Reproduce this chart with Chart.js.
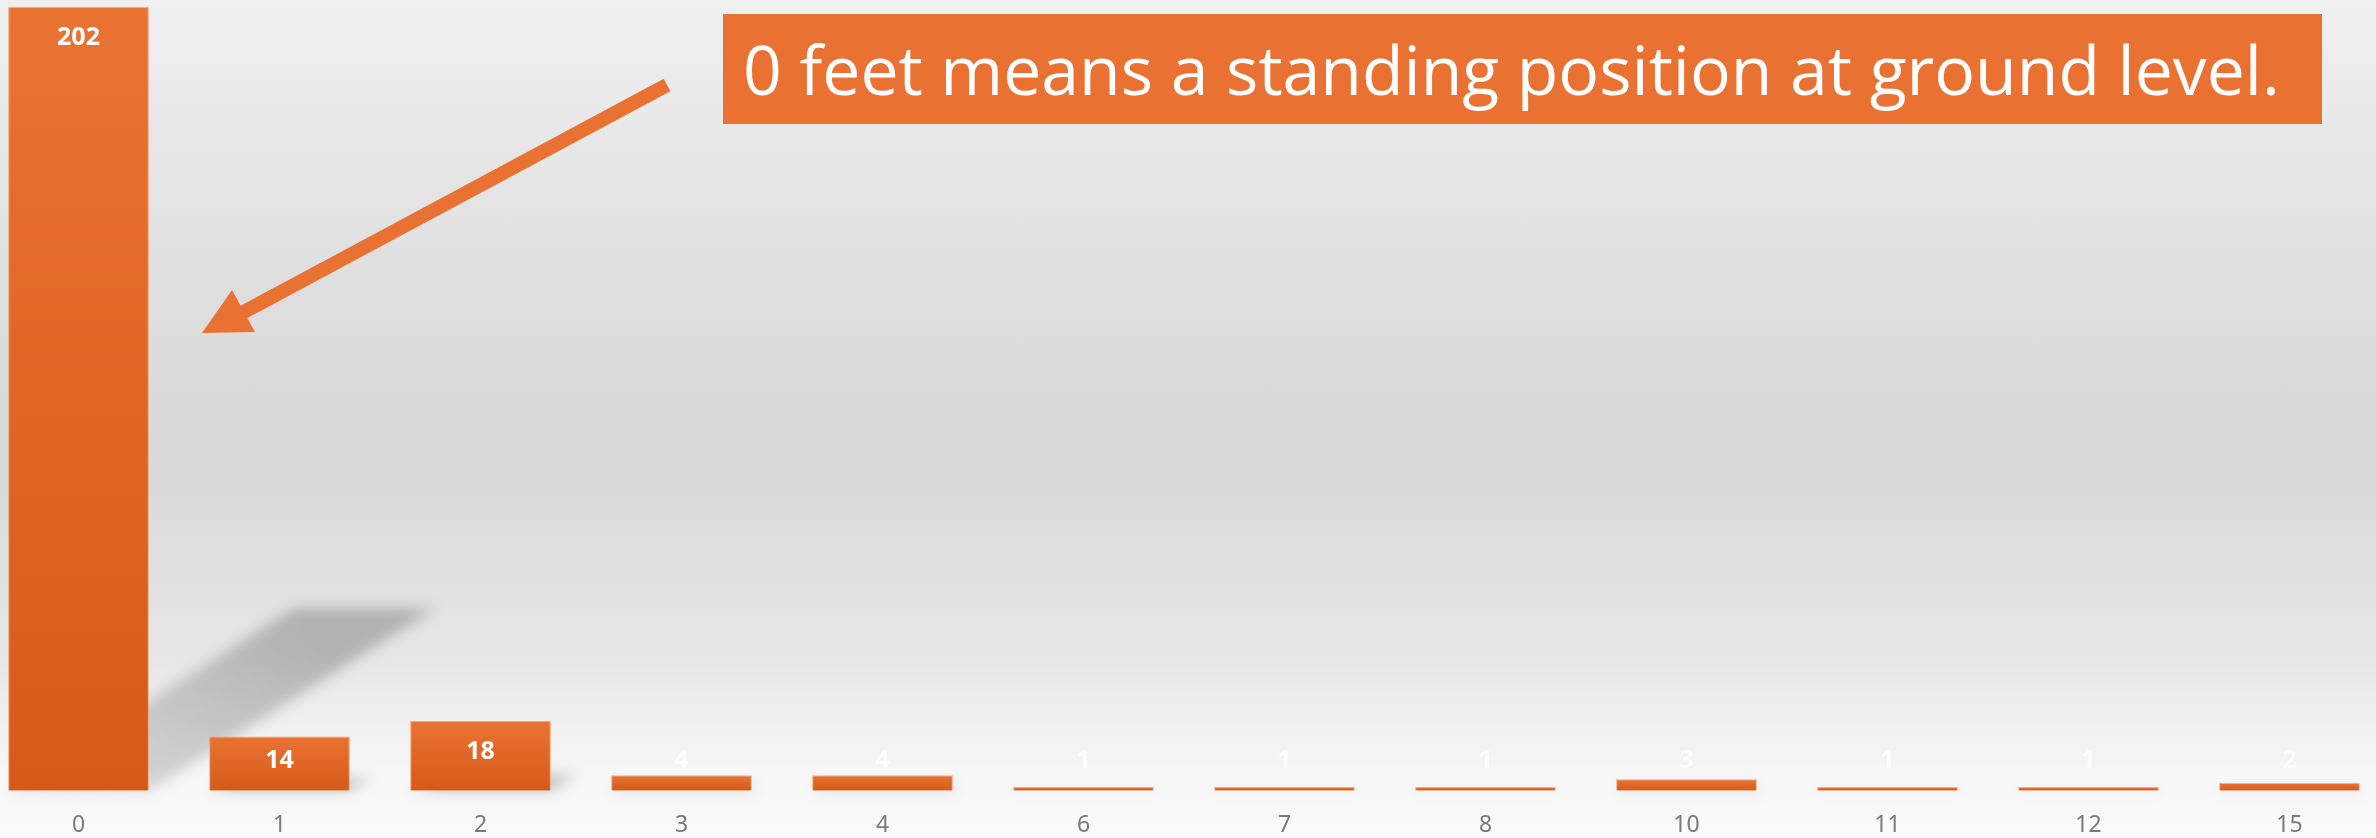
<!DOCTYPE html>
<html>
<head>
<meta charset="utf-8">
<script src="https://cdn.jsdelivr.net/npm/chart.js@4.4.1/dist/chart.umd.min.js"></script>
<style>
  html, body {
    margin: 0;
    padding: 0;
    width: 2376px;
    height: 838px;
    overflow: hidden;
  }
  body {
    position: relative;
    background: linear-gradient(to bottom, #f0f0f0 0%, #dedede 35%, #d8d8d8 55%, #e6e6e6 78%, #f6f6f6 92%, #fbfbfb 100%);
    font-family: "Noto Sans", sans-serif;
  }
  #wrap {
    position: absolute;
    left: -22px;
    top: 0;
    width: 2412px;
    height: 862px;
  }
  #note {
    position: absolute;
    left: 723px;
    top: 14px;
    width: 1599px;
    height: 110px;
    background: #e97132;
    color: #fff;
    font-family: "Open Sans", sans-serif;
    font-size: 64px;
    line-height: 110px;
    white-space: nowrap;
    box-sizing: border-box;
    padding-left: 20px;
  }
  #arrow {
    position: absolute;
    left: 0;
    top: 0;
  }
</style>
</head>
<body>
<div id="wrap"><canvas id="chart"></canvas></div>
<svg id="arrow" width="2376" height="838">
  <line x1="667" y1="85" x2="240" y2="314" stroke="#e97132" stroke-width="14"/>
  <polygon points="202,333 232,290 255,332" fill="#e97132"/>
</svg>
<div id="note"><span id="noteText">0 feet means a standing position at ground level.</span></div>

<script>
// heights in feet and how many records
const heights = ['0', '1', '2', '3', '4', '6', '7', '8', '10', '11', '12', '15'];
const counts = [202, 14, 18, 4, 4, 1, 1, 1, 3, 1, 1, 2];
const yMax = 202;

const barTop = '#ea7333';
const barBottom = '#d55a18';

// fit the annotation text to the width seen in the picture
const noteText = document.getElementById('noteText');
const targetWidth = 1538;
const w0 = noteText.getBoundingClientRect().width;
if (w0 > 0) {
    document.getElementById('note').style.fontSize = (64 * targetWidth / w0).toFixed(1) + 'px';
}

function barFill(context) {
    const chart = context.chart;
    const area = chart.chartArea;
    if (!area) return barTop;
    const y = chart.scales.y;
    const top = y.getPixelForValue(context.raw);
    const base = y.getPixelForValue(0);
    if (!(base > top)) return barTop;
    const g = chart.ctx.createLinearGradient(0, top, 0, base);
    g.addColorStop(0, barTop);
    g.addColorStop(1, barBottom);
    return g;
}

// soft slanted shadow behind each bar
const shadowPlugin = {
    id: 'barShadow',
    beforeDatasetsDraw(chart) {
        const ctx = chart.ctx;
        const meta = chart.getDatasetMeta(0);
        ctx.save();
        ctx.filter = 'blur(7px)';
        meta.data.forEach(bar => {
            const h = bar.base - bar.y;
            const left = bar.x - bar.width / 2;
            const right = bar.x + bar.width / 2;
            const dx = h * 0.365;
            const dy = -h * 0.233;
            const g = ctx.createLinearGradient(left, bar.base, left + dx, bar.base + dy);
            g.addColorStop(0, 'rgba(0,0,0,0.10)');
            g.addColorStop(1, 'rgba(0,0,0,0.22)');
            ctx.fillStyle = g;
            ctx.beginPath();
            ctx.moveTo(left, bar.base);
            ctx.lineTo(right, bar.base);
            ctx.lineTo(right + dx, bar.base + dy);
            ctx.lineTo(left + dx, bar.base + dy);
            ctx.closePath();
            ctx.fill();
        });
        ctx.restore();
    }
};

// value labels: inside the bar near its top, but never below a minimum height
const valueLabels = {
    id: 'valueLabels',
    afterDatasetsDraw(chart) {
        const ctx = chart.ctx;
        const meta = chart.getDatasetMeta(0);
        ctx.save();
        ctx.font = 'bold 25px "Noto Sans", sans-serif';
        ctx.textAlign = 'center';
        ctx.textBaseline = 'middle';
        meta.data.forEach((bar, i) => {
            const y = Math.min(bar.y + 31, bar.base - 30);
            ctx.fillStyle = (bar.base - bar.y) > 40 ? '#ffffff' : 'rgba(255,255,255,0.8)';
            ctx.fillText(String(counts[i]), bar.x, y);
        });
        ctx.restore();
    }
};

new Chart(document.getElementById('chart'), {
    type: 'bar',
    data: {
        labels: heights,
        datasets: [{
            data: counts,
            backgroundColor: barFill,
            borderColor: 'rgba(243,150,100,0.8)',
            borderWidth: { top: 1, left: 1, right: 1, bottom: 0 },
            borderSkipped: false,
            barPercentage: 0.70,
            categoryPercentage: 1.0
        }]
    },
    options: {
        responsive: true,
        maintainAspectRatio: false,
        animation: false,
        layout: {
            padding: { top: 7, bottom: 1.6, left: 0, right: 0 }
        },
        plugins: {
            legend: { display: false },
            tooltip: { enabled: false }
        },
        scales: {
            x: {
                grid: { display: false, drawTicks: false },
                border: { display: false },
                ticks: {
                    color: '#7a7a7a',
                    padding: 21,
                    font: { family: '"Noto Sans", sans-serif', size: 23 }
                }
            },
            y: {
                display: false,
                min: 0,
                max: yMax
            }
        }
    },
    plugins: [shadowPlugin, valueLabels]
});
</script>
</body>
</html>
